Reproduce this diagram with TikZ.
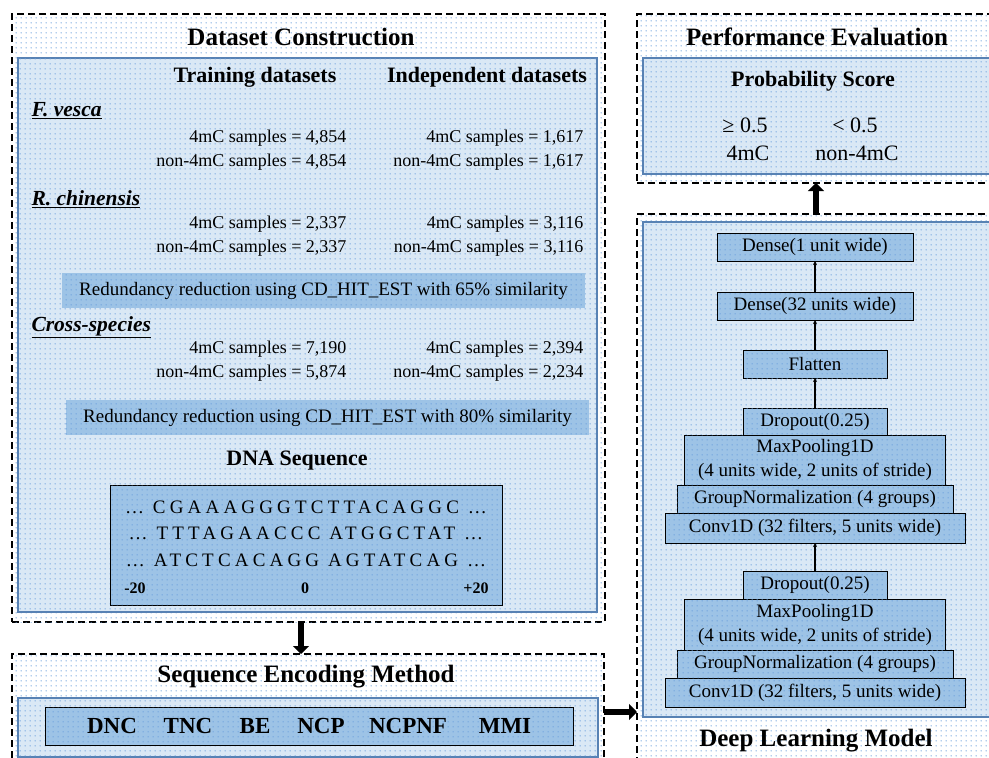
\documentclass[tikz,border=0pt]{standalone}
\usepackage{fontspec}
\setmainfont{Liberation Serif}
\usepackage{xcolor}
\usepackage{tikz}
\usetikzlibrary{arrows.meta,positioning,patterns.meta}
\definecolor{panelblue}{RGB}{218,232,245}
\definecolor{boxblue}{RGB}{157,195,230}
\definecolor{dotblue}{RGB}{105,158,220}
\definecolor{panelline}{RGB}{88,130,180}

% small blue dot grid used on every filled area
\tikzdeclarepattern{
  name=finedots,
  type=uncolored,
  bottom left={(0pt,0pt)},
  top right={(4.6pt,4.6pt)},
  tile size={(4.6pt,4.6pt)},
  code={\pgfpathcircle{\pgfqpoint{2.3pt}{2.3pt}}{0.7pt}\pgfusepath{fill}}
}

\begin{document}
\begin{tikzpicture}[
  x=1pt, y=-1pt,
  dotfill/.style={postaction={pattern=finedots, pattern color=dotblue}},
  frame/.style={draw, line width=1.5pt, dash pattern=on 7pt off 4pt, fill=white, dotfill, inner sep=0pt, outer sep=0pt},
  panel/.style={draw=panelline, line width=1.2pt, fill=panelblue, dotfill, inner sep=0pt, outer sep=0pt},
  blk/.style={fill=boxblue, dotfill, inner sep=0pt, outer sep=0pt},
  layer/.style={blk, draw=black, line width=1pt, minimum height=28pt, align=center, font=\fontsize{19}{24}\selectfont},
  head/.style={font=\fontsize{25}{30}\selectfont\bfseries},
  subhead/.style={font=\fontsize{22}{26}\selectfont\bfseries},
  count/.style={anchor=east, font=\fontsize{18}{21}\selectfont},
  species/.style={anchor=west, font=\fontsize{21.5}{25}\selectfont\bfseries\itshape},
  plain/.style={font=\fontsize{22}{26}\selectfont},
  feat/.style={font=\fontsize{23}{27}\selectfont\bfseries},
  seq/.style={font=\fontsize{19}{22}\selectfont\addfontfeature{LetterSpace=22}},
  poslabel/.style={font=\fontsize{16}{18}\selectfont\bfseries},
  flow/.style={line width=1.6pt, -{Stealth[length=4pt,width=4pt]}},
  bigarrow/.style={line width=6.5pt, -{Triangle[length=8pt,width=16pt]}}
]
\useasboundingbox (0,0) rectangle (989,758);
\clip (0,0) rectangle (989,758);
\fill[white] (0,0) rectangle (989,758);

% ---- dataset construction
\node[frame, minimum width=593pt, minimum height=608pt] (dsframe) at (308.5,318) {};
\node[panel, minimum width=579pt, minimum height=554pt] (dspanel) at (307.5,335) {};
\node[head] (dstitle) at (301,37) {Dataset Construction};
\node[subhead] (train) at (255,77) {Training datasets};
\node[subhead] (indep) at (487,77) {Independent datasets};

\node[species] (fves) at (28,111) {\underline{F. vesca}};
\node[count] (fvtr1) at (350,138) {4mC samples = 4,854};
\node[count] (fvtr2) at (350,162) {non-4mC samples = 4,854};
\node[count] (fvin1) at (587,138) {4mC samples = 1,617};
\node[count] (fvin2) at (587,162) {non-4mC samples = 1,617};

\node[species] (rchi) at (28,199) {\underline{R. chinensis}};
\node[count] (rctr1) at (350,224) {4mC samples = 2,337};
\node[count] (rctr2) at (350,248) {non-4mC samples = 2,337};
\node[count] (rcin1) at (587,224) {4mC samples = 3,116};
\node[count] (rcin2) at (587,248) {non-4mC samples = 3,116};

\node[blk, minimum width=523pt, minimum height=35pt, font=\fontsize{19}{22}\selectfont] (red1) at (323.5,290.5)
  {Redundancy reduction using CD\_HIT\_EST with 65\% similarity};

\node[species] (cross) at (28,327) {\underline{Cross-species}};
\node[count] (cstr1) at (350,349) {4mC samples = 7,190};
\node[count] (cstr2) at (350,373) {non-4mC samples = 5,874};
\node[count] (csin1) at (587,349) {4mC samples = 2,394};
\node[count] (csin2) at (587,373) {non-4mC samples = 2,234};

\node[blk, minimum width=523pt, minimum height=35pt, font=\fontsize{19}{22}\selectfont] (red2) at (327.5,417.5)
  {Redundancy reduction using CD\_HIT\_EST with 80\% similarity};

\node[subhead] (dnatitle) at (297,461) {DNA Sequence};
\node[blk, draw=black, line width=1pt, minimum width=392pt, minimum height=120pt] (dnabox) at (306,545) {};
\node[seq] (seqa) at (306,507) {\ldots\ CGAAAGGGTCTTACAGGC\ \ldots};
\node[seq] (seqb) at (306,533) {\ldots\ TTTAGAACCC ATGGCTAT\ \ldots};
\node[seq] (seqc) at (306,560) {\ldots\ ATCTCACAGG AGTATCAG\ \ldots};
\node[poslabel] (posleft) at (135,588) {-20};
\node[poslabel] (posmid) at (305,588) {0};
\node[poslabel] (posright) at (476,588) {+20};

% ---- sequence encoding
\node[frame, minimum width=592pt, minimum height=116pt] (encframe) at (308,712) {};
\node[panel, minimum width=580pt, minimum height=59pt] (encpanel) at (308,727.5) {};
\node[head] (enctitle) at (306,677) {Sequence Encoding Method};
\node[blk, draw=black, line width=1pt, minimum width=528pt, minimum height=38pt] (encbox) at (309,726) {};
\node[feat] (dnc) at (112,726) {DNC};
\node[feat] (tnc) at (188,726) {TNC};
\node[feat] (be) at (255,726) {BE};
\node[feat] (ncp) at (321,726) {NCP};
\node[feat] (ncpnf) at (408,726) {NCPNF};
\node[feat] (mmi) at (505,726) {MMI};

% ---- performance evaluation
\node[frame, minimum width=358pt, minimum height=169pt] (peframe) at (816,98.5) {};
\node[panel, minimum width=352pt, minimum height=116pt] (pepanel) at (819,116) {};
\node[head] (petitle) at (817,37) {Performance Evaluation};
\node[subhead] (prob) at (813,81) {Probability Score};
\node[plain] (geq) at (745,125) {≥ 0.5};
\node[plain] (less) at (855,125) {< 0.5};
\node[plain] (pos4) at (748,153) {4mC};
\node[plain] (neg4) at (857,153) {non-4mC};

% ---- deep learning model
\node[frame, minimum width=358pt, minimum height=556pt] (dlframe) at (816,492) {};
\node[panel, minimum width=352pt, minimum height=495pt] (dlpanel) at (819,469.5) {};
\node[head] (dltitle) at (816,741) {Deep Learning Model};

\node[layer, minimum width=300pt, minimum height=29pt] (conv1) at (815,692.5) {Conv1D (32 filters, 5 units wide)};
\node[layer, minimum width=276pt, above=0pt of conv1] (gn1) {GroupNormalization (4 groups)};
\node[layer, minimum width=261pt, minimum height=51pt, above=0pt of gn1] (pool1) {MaxPooling1D\\(4 units wide, 2 units of stride)};
\node[layer, minimum width=144pt, minimum height=28pt, above=0pt of pool1] (drop1) {Dropout(0.25)};

\node[layer, minimum width=300pt, minimum height=30pt, above=28pt of drop1] (conv2) {Conv1D (32 filters, 5 units wide)};
\node[layer, minimum width=276pt, above=0pt of conv2] (gn2) {GroupNormalization (4 groups)};
\node[layer, minimum width=261pt, minimum height=50pt, above=0pt of gn2] (pool2) {MaxPooling1D\\(4 units wide, 2 units of stride)};
\node[layer, minimum width=144pt, minimum height=27pt, above=0pt of pool2] (drop2) {Dropout(0.25)};

\node[layer, minimum width=144pt, above=30pt of drop2] (flat) {Flatten};
\node[layer, minimum width=196pt, above=30pt of flat] (dense32) {Dense(32 units wide)};
\node[layer, minimum width=196pt, above=31pt of dense32] (dense1) {Dense(1 unit wide)};

\draw[flow] (drop1) -- (conv2);
\draw[flow] (drop2) -- (flat);
\draw[flow] (flat) -- (dense32);
\draw[flow] (dense32) -- (dense1);

% ---- stage arrows
\draw[bigarrow] (dsframe.south -| dstitle) -- (encframe.north -| dstitle);
\draw[bigarrow] (encframe.east) -- (encframe.east -| dlframe.west);
\draw[bigarrow] (dlframe.north) -- (peframe.south);
\end{tikzpicture}
\end{document}
